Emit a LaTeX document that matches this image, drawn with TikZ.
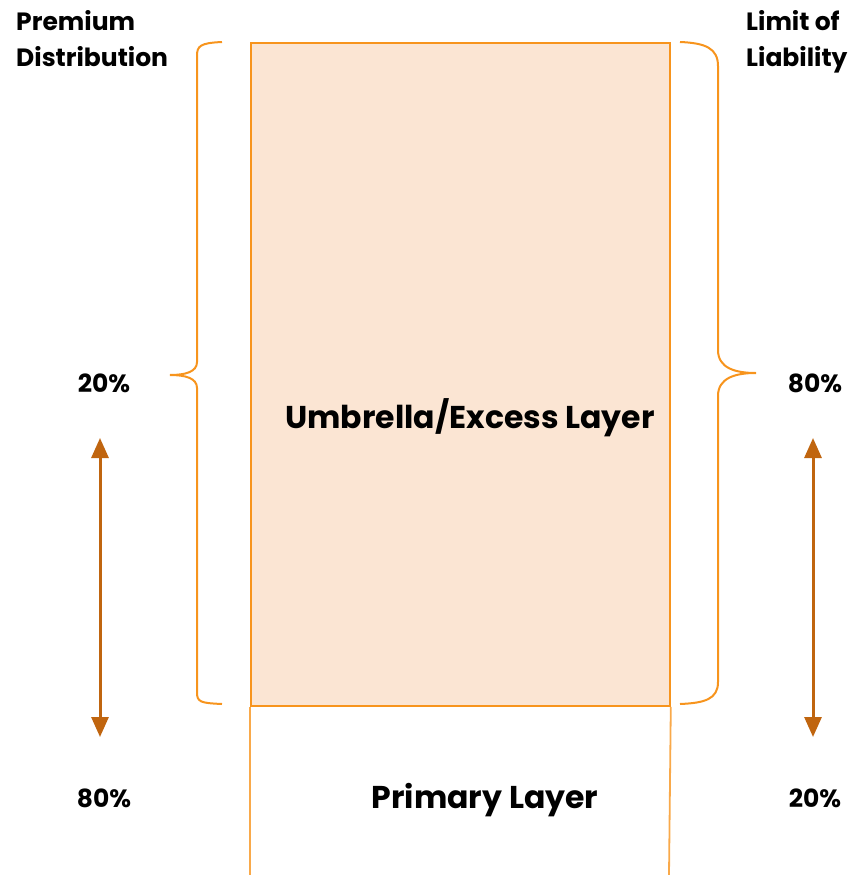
\documentclass[tikz,border=0pt]{standalone}
\usepackage{fontspec}
\setmainfont{Poppins}
\usetikzlibrary{arrows.meta}
\definecolor{brc}{HTML}{F7941D}
\definecolor{boxfill}{HTML}{FBE5D3}
\definecolor{arc}{HTML}{C0650F}
\tikzset{
  lbl/.style={font=\bfseries\fontsize{25}{36}\selectfont, inner sep=0pt, align=left},
  big/.style={font=\bfseries\fontsize{31.5}{36}\selectfont, inner sep=0pt},
  brace/.style={draw=brc, line width=2pt},
  arr/.style={draw=arc, line width=3pt, {Triangle[length=20pt,width=17pt]}-{Triangle[length=20pt,width=17pt]}}
}
\begin{document}
\begin{tikzpicture}[x=1pt,y=-1pt]
\useasboundingbox (0,0) rectangle (849,875);
% box
\node[draw=brc, fill=boxfill, line width=1.8pt, minimum width=419pt, minimum height=663pt, inner sep=0pt, anchor=north west] (umb) at (250,42) {};
\coordinate (pl) at (250,875);
\coordinate (pr) at (669,875);
\draw[draw=brc!80, line width=1.8pt] (umb.south west) -- (pl);
\draw[draw=brc!80, line width=1.8pt] (umb.south east) -- (pr);
% left brace
\draw[brace] (222,42) .. controls (200,43) and (197,46) .. (197,56)
  -- (197,362) .. controls (197,372) and (185,375) .. (170,375)
  .. controls (185,375) and (197,378) .. (197,388)
  -- (197,692) .. controls (197,702) and (200,703) .. (222,704);
% right brace
\draw[brace] (680,42) .. controls (705,43) and (718,48) .. (718,66)
  -- (718,350) .. controls (718,368) and (735,373) .. (756,373)
  .. controls (735,373) and (718,378) .. (718,396)
  -- (718,682) .. controls (718,699) and (705,703) .. (680,704);
% arrows
\coordinate (la) at (100,438);
\coordinate (lb) at (100,737);
\coordinate (ra) at (813,438);
\coordinate (rb) at (813,737);
\draw[arr] (la) -- (lb);
\draw[arr] (ra) -- (rb);
% texts
\node[lbl, anchor=north west] (pd) at (16,10) {Premium\\Distribution};
\node[lbl, anchor=north west] (ll) at (746,10) {Limit of\\Liability};
\node[lbl] (l20) at (104,383) {20\%};
\node[lbl] (r80) at (815,383) {80\%};
\node[lbl] (l80) at (104,798) {80\%};
\node[lbl] (r20) at (815,798) {20\%};
\node[big] (ut) at (470,418) {Umbrella/Excess Layer};
\node[big] (pt) at (485,800) {Primary Layer};
\end{tikzpicture}
\end{document}
